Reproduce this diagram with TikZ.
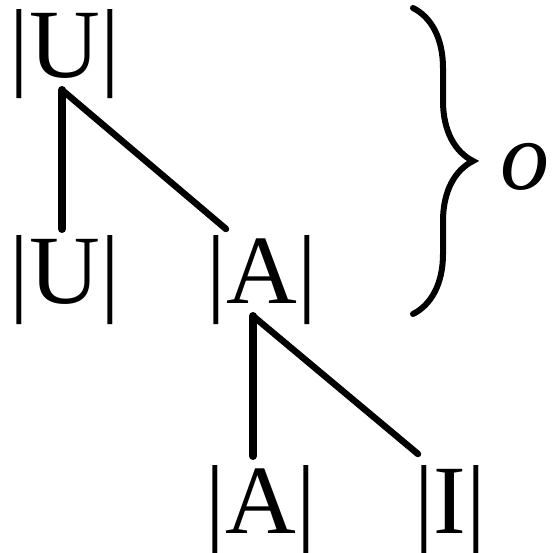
\documentclass[tikz,border=0pt]{standalone}
\usepackage{fontspec}
\setmainfont{Liberation Serif}
\usetikzlibrary{decorations.pathreplacing}
\begin{document}
\begin{tikzpicture}[x=1pt,y=-1pt,
  lbl/.style={anchor=base,inner sep=0pt,font=\fontsize{98}{110}\selectfont},
  vedge/.style={line width=8pt,line cap=round},
  dedge/.style={line width=6.5pt,line cap=round}]
\useasboundingbox (0,0) rectangle (554,553);
\node[lbl] (u0) at (65,78) {|U|};
\node[lbl] (u1) at (65,303) {|U|};
\node[lbl] (a1) at (262,303) {|A|};
\node[lbl] (a2) at (261,533) {|A|};
\node[lbl] (i2) at (450,533) {|I|};
\coordinate (j0) at (62,90);
\coordinate (e0) at (62,229);
\coordinate (e1) at (226,229);
\coordinate (j1) at (253,316);
\coordinate (e2) at (253,456);
\coordinate (e3) at (418,454);
\draw[vedge] (j0) -- (e0);
\draw[dedge] (j0) -- (e1);
\draw[vedge] (j1) -- (e2);
\draw[dedge] (j1) -- (e3);
\coordinate (b0) at (413,8);
\coordinate (b1) at (413,314);
\draw[line width=6pt,line cap=round,decorate,decoration={brace,amplitude=60pt}] (b0) -- (b1);
\node[lbl] (o) at (525,190) {\itshape o};
\end{tikzpicture}
\end{document}
